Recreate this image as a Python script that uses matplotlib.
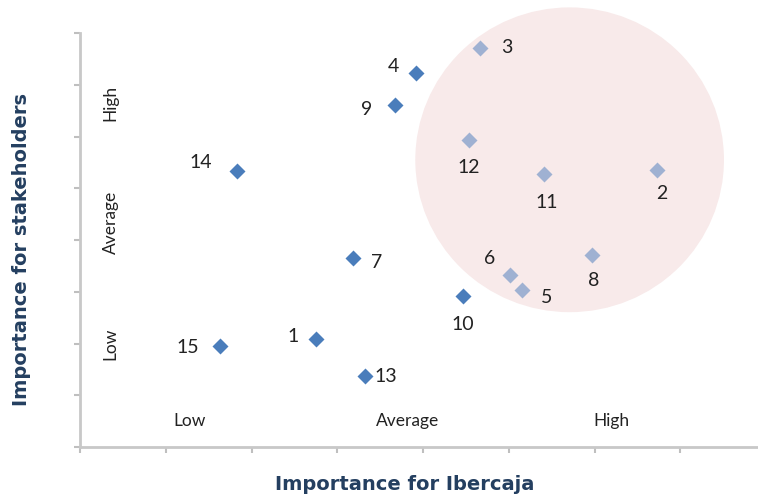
import matplotlib
matplotlib.use("Agg")
import matplotlib.pyplot as plt
from matplotlib.patches import Ellipse

# Data
ids = ["1", "2", "3", "4", "5", "6", "7", "8", "9", "10", "11", "12", "13", "14", "15"]
x_ibercaja = [2.75, 6.73, 4.66, 3.92, 5.15, 5.01, 3.18, 5.97, 3.67, 4.47, 5.41, 4.54, 3.32, 1.83, 1.63]
y_stake = [2.08, 5.35, 7.71, 7.23, 3.03, 3.32, 3.65, 3.71, 6.61, 2.92, 5.28, 5.93, 1.37, 5.33, 1.95]
in_circle = [False, True, True, False, True, True, False, True, False, False, True, True, False, False, False]
label_offsets = [(-23, 3), (5, -23), (27, 1), (-23, 6), (25, -7), (-20, 17), (24, -4), (2, -25),
                 (-28, -5), (-1, -29), (3, -29), (-1, -27), (21, 0), (-36, 9), (-32, -1)]
x_levels = ["Low", "Average", "High"]
x_level_pos = [1.28, 3.82, 6.2]
y_levels = ["Low", "Average", "High"]
y_level_pos = [2.0, 4.35, 6.65]

fig = plt.figure(figsize=(7.58, 4.97), dpi=100)
ax = fig.add_axes([80/758, 50/497, 677/758, 414/497])
ax.set_xlim(0, 677/85.75)
ax.set_ylim(0, 8)

circ = Ellipse((5.71, 5.55), 3.60, 5.89, facecolor="#f8eaea", edgecolor="none",
               clip_on=False, zorder=0)
ax.add_patch(circ)

for xi, yi, c, lab, off in zip(x_ibercaja, y_stake, in_circle, ids, label_offsets):
    ax.plot(xi, yi, marker="D", ms=8, color="#9fb1d2" if c else "#4a7dbb",
            mec="none", linestyle="none", zorder=3)
    ax.annotate(lab, (xi, yi), xytext=off, textcoords="offset pixels",
                ha="center", va="center", fontsize=14, color="#222222",
                family="Lato", zorder=4)

for lab, p in zip(x_levels, x_level_pos):
    ax.text(p, 0.5, lab, ha="center", va="center", fontsize=12.5, color="#222222", family="Lato")
for lab, p in zip(y_levels, y_level_pos):
    ax.text(0.36, p, lab, ha="center", va="center", fontsize=12.5, color="#222222",
            family="Lato", rotation=90)

ax.set_xticks(range(0, 8))
ax.set_yticks(range(0, 9))
ax.set_xticklabels([])
ax.set_yticklabels([])
ax.tick_params(direction="out", length=4, width=1.5, color="#bfbfbf")
for s in ["top", "right"]:
    ax.spines[s].set_visible(False)
for s in ["left", "bottom"]:
    ax.spines[s].set_color("#c8c8c8")
    ax.spines[s].set_linewidth(2)

fig.text(405/758, 1 - 485/497, "Importance for Ibercaja", ha="center", va="center",
         fontsize=14, fontweight="bold", color="#243f60", family="DejaVu Sans")
fig.text(22/758, 1 - 250/497, "Importance for stakeholders", ha="center", va="center",
         fontsize=14, fontweight="bold", color="#243f60", family="DejaVu Sans", rotation=90)

fig.savefig("out.png", dpi=100)
